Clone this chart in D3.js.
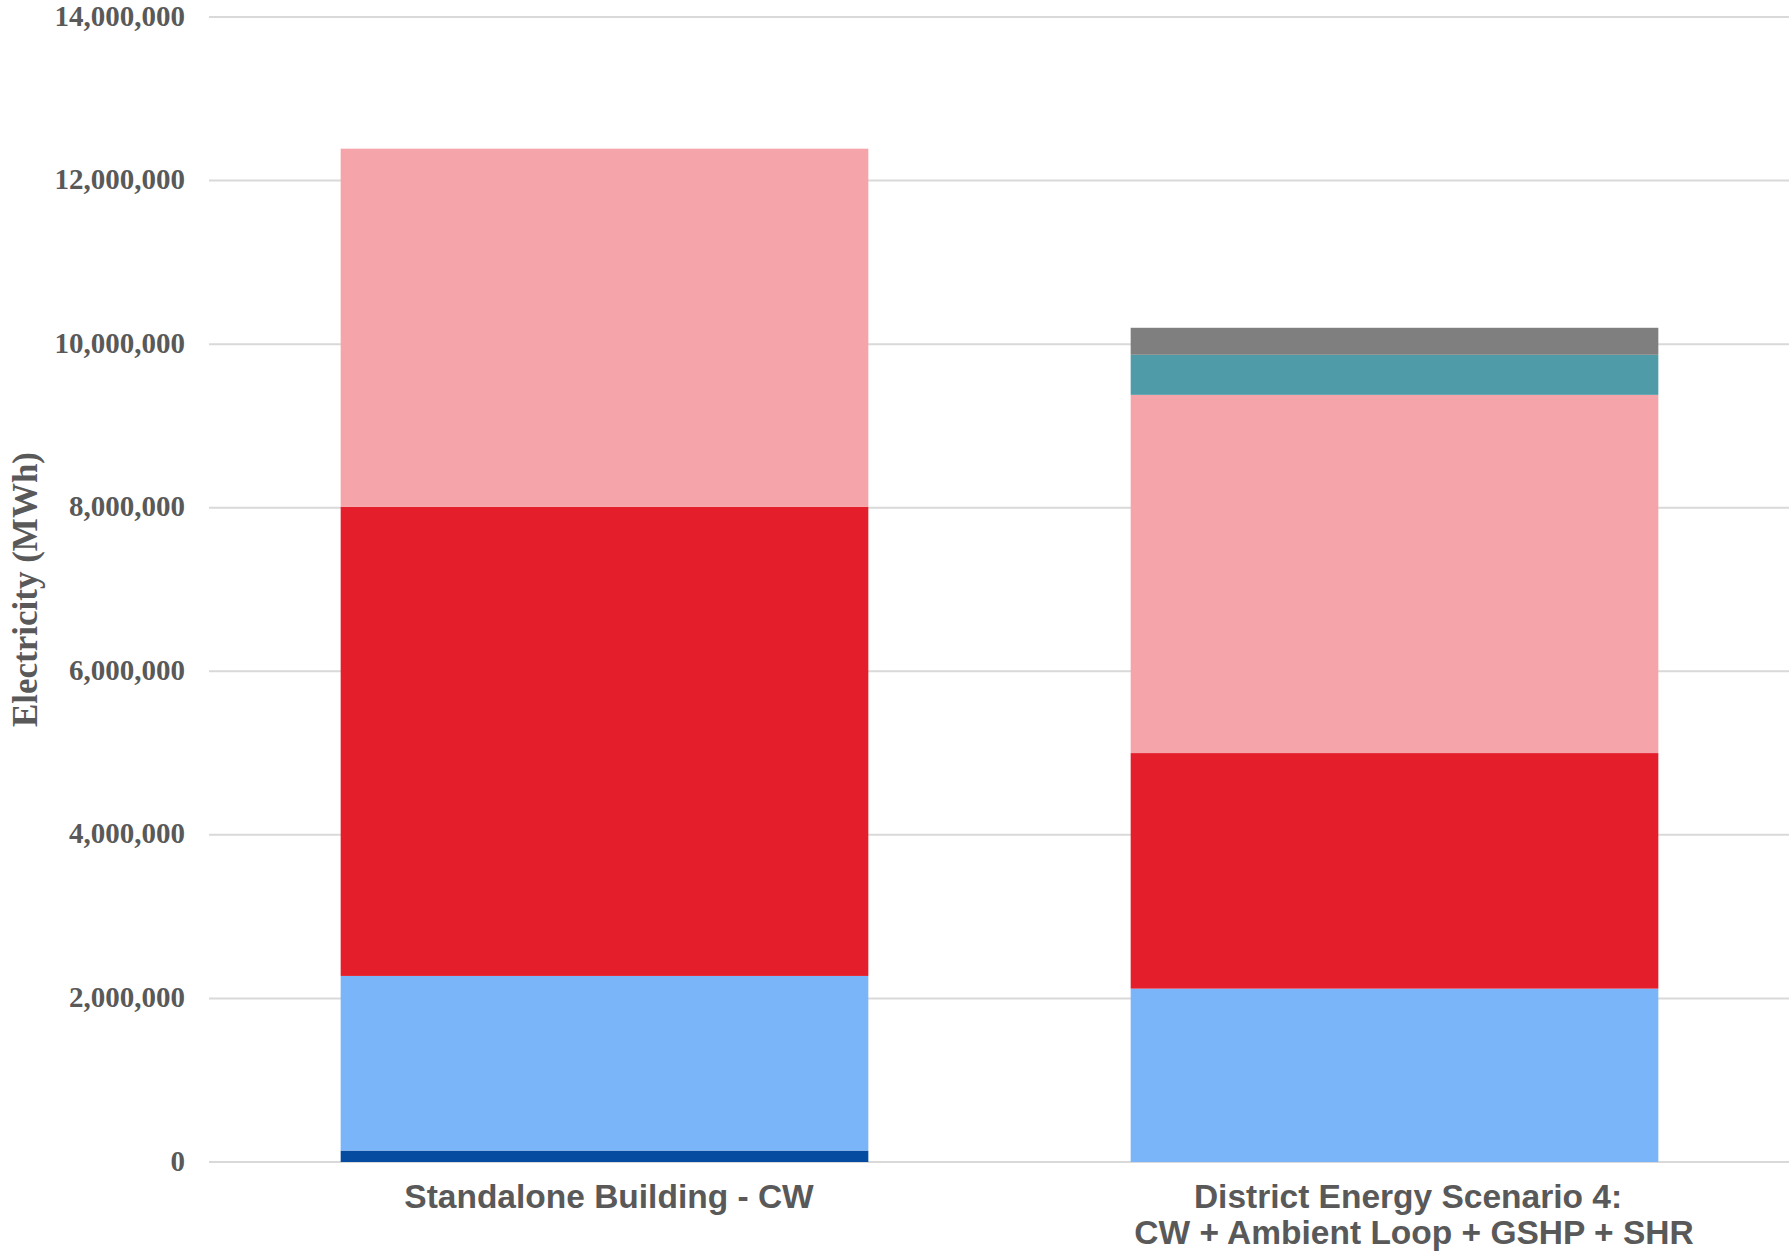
<!DOCTYPE html>
<html>
<head>
<meta charset="utf-8">
<script src="https://cdn.jsdelivr.net/npm/d3@7/dist/d3.min.js"></script>
<style>
  html, body { margin: 0; padding: 0; background: #ffffff; }
  svg { display: block; }
</style>
</head>
<body>
<svg id="chart" width="1789" height="1252"></svg>
<script>
// ---- Data (values in MWh) ----
const categories = [
  ["Standalone Building - CW"],
  ["District Energy Scenario 4:", "CW + Ambient Loop + GSHP + SHR"]
];
const categoryKeys = ["Standalone Building - CW", "District Energy Scenario 4: CW + Ambient Loop + GSHP + SHR"];
const seriesNames = ["Series 1", "Series 2", "Series 3", "Series 4", "Series 5", "Series 6"];
const seriesColors = ["#054ba0", "#7ab4f9", "#e41f2b", "#f5a5a9", "#4f9ba8", "#7f7f7f"];
const series1 = [140000, 0];
const series2 = [2135000, 2120000];
const series3 = [5735000, 2880000];
const series4 = [4380000, 4380000];
const series5 = [0, 490000];
const series6 = [0, 330000];
const yTicks = [0, 2000000, 4000000, 6000000, 8000000, 10000000, 12000000, 14000000];
const yTitle = "Electricity (MWh)";

// ---- Layout ----
const svg = d3.select("#chart");
const plotLeft = 209, plotRight = 1789, plotTop = 17, plotBottom = 1162;
const textColor = "#595959";

const x = d3.scaleBand().domain(categoryKeys).range([plotLeft, plotRight])
  .paddingInner(1 / 3).paddingOuter(1 / 6);
const y = d3.scaleLinear().domain([0, 14000000]).range([plotBottom, plotTop]);

// gridlines
svg.append("g").selectAll("line").data(yTicks).join("line")
  .attr("x1", plotLeft).attr("x2", plotRight)
  .attr("y1", d => y(d)).attr("y2", d => y(d))
  .attr("stroke", "#d9d9d9").attr("stroke-width", 2);

// y tick labels via axis
const yAxis = d3.axisLeft(y).tickValues(yTicks).tickSize(0).tickPadding(0)
  .tickFormat(d3.format(","));
const gy = svg.append("g").attr("transform", `translate(185,0)`).call(yAxis);
gy.select(".domain").remove();
gy.selectAll("text")
  .attr("fill", textColor)
  .attr("font-family", "'Liberation Serif', 'Times New Roman', serif")
  .attr("font-weight", "bold")
  .attr("font-size", 29)
  .attr("dy", "0.28em");

// stacked bars
const rows = categoryKeys.map((c, i) => {
  const r = { cat: c };
  [series1, series2, series3, series4, series5, series6].forEach((s, j) => r[seriesNames[j]] = s[i]);
  return r;
});
const stacked = d3.stack().keys(seriesNames)(rows);
svg.append("g").selectAll("g").data(stacked).join("g")
  .attr("fill", (d, i) => seriesColors[i])
  .selectAll("rect").data(d => d).join("rect")
  .attr("x", d => x(d.data.cat))
  .attr("width", x.bandwidth() + 1)
  .attr("y", d => y(d[1]))
  .attr("height", d => Math.max(0, y(d[0]) - y(d[1])));

// category labels
const labelShift = [5, 14];
const lab = svg.append("g").selectAll("text").data(categories).join("text")
  .attr("text-anchor", "middle")
  .attr("fill", textColor)
  .attr("font-family", "'Liberation Sans', Arial, sans-serif")
  .attr("font-weight", "bold")
  .attr("font-size", 33.5)
  .attr("transform", (d, i) => `translate(${x(categoryKeys[i]) + x.bandwidth() / 2 + labelShift[i]},1208)`);
lab.selectAll("tspan").data(d => d).join("tspan")
  .attr("x", (d, i) => i * 6)
  .attr("y", (d, i) => i * 36)
  .text(d => d);

// y axis title
svg.append("text")
  .attr("transform", `translate(37,${(plotTop + plotBottom) / 2}) rotate(-90)`)
  .attr("text-anchor", "middle")
  .attr("fill", textColor)
  .attr("font-family", "'Liberation Serif', 'Times New Roman', serif")
  .attr("font-weight", "bold")
  .attr("font-size", 35)
  .text(yTitle);
</script>
</body>
</html>
